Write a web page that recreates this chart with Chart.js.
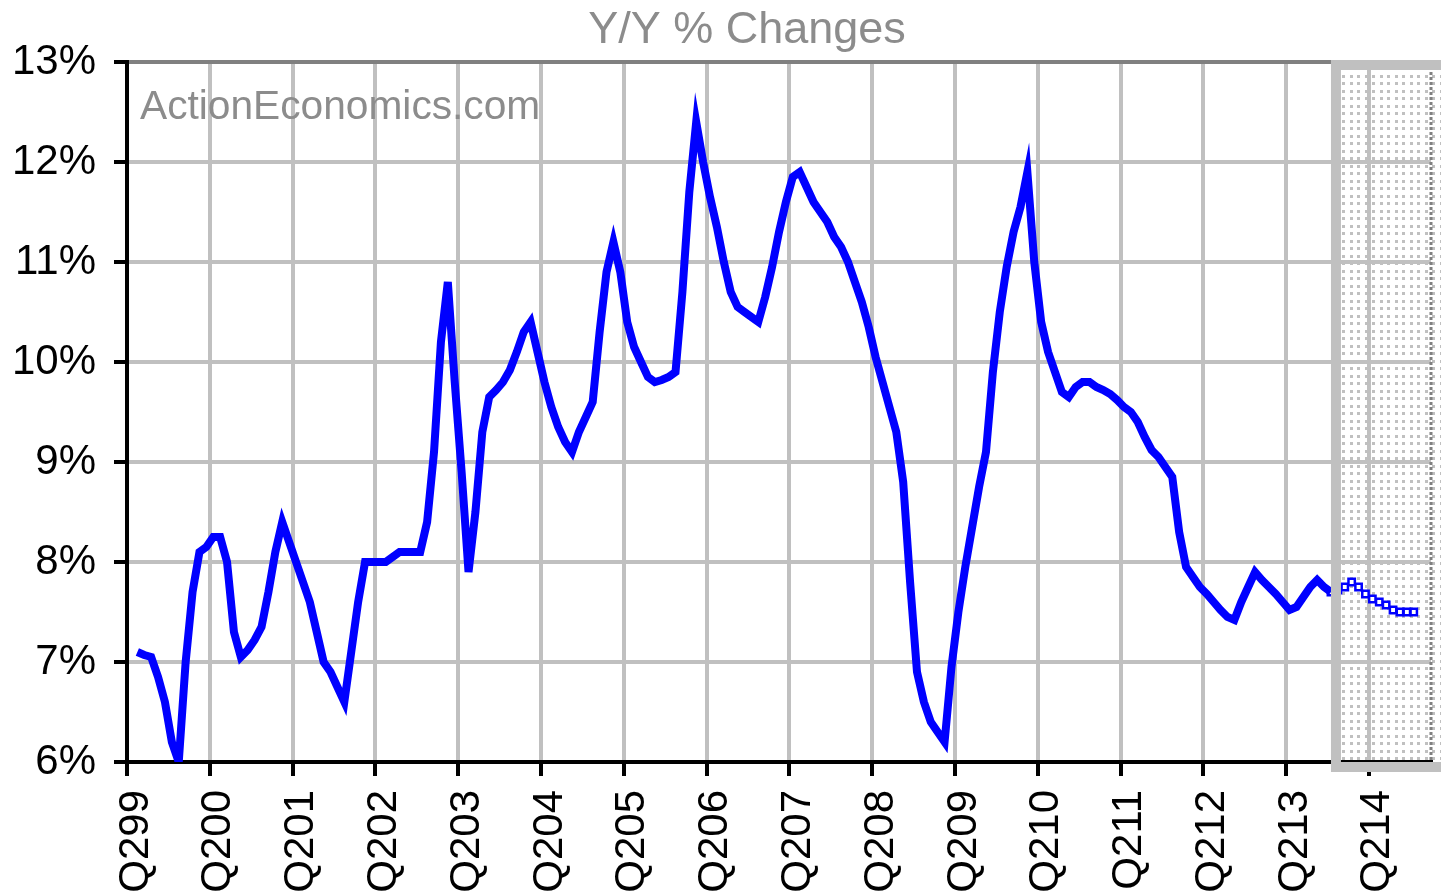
<!DOCTYPE html>
<html>
<head>
<meta charset="utf-8">
<script src="https://cdn.jsdelivr.net/npm/chart.js@4.4.1/dist/chart.umd.min.js"></script>
<style>
html, body { margin: 0; padding: 0; background: #fff; }
</style>
</head>
<body>
<canvas id="chartYY" width="1441" height="893"></canvas>
<script>
// tick labels under the x axis, one per year
var tickLabels = ['Q299','Q200','Q201','Q202','Q203','Q204','Q205','Q206',
                  'Q207','Q208','Q209','Q210','Q211','Q212','Q213','Q214'];
var yTicks = [6, 7, 8, 9, 10, 11, 12, 13];

// monthly y/y % change, actuals
var histValues = [
    7.1, 7.07, 7.05, 6.85, 6.6, 6.2, 6.0, 7.0, 7.7, 8.1, 8.15, 8.25,
    8.25, 8.0, 7.3, 7.05, 7.12, 7.22, 7.35, 7.7, 8.1, 8.4, 8.2, 8.0,
    7.8, 7.6, 7.3, 7.0, 6.9, 6.75, 6.6, 7.1, 7.6, 8.0, 8.0, 8.0,
    8.0, 8.05, 8.1, 8.1, 8.1, 8.1, 8.4, 9.1, 10.2, 10.8, 9.8, 8.9,
    7.9, 8.5, 9.3, 9.65, 9.72, 9.8, 9.92, 10.1, 10.3, 10.4, 10.1, 9.8,
    9.55, 9.35, 9.2, 9.1, 9.3, 9.45, 9.6, 10.3, 10.9, 11.2, 10.9, 10.4,
    10.15, 10.0, 9.85, 9.8, 9.82, 9.85, 9.9, 10.7, 11.7, 12.4, 12.0, 11.65,
    11.35, 11.0, 10.7, 10.55, 10.5, 10.45, 10.4, 10.65, 10.95, 11.3, 11.6, 11.85,
    11.9, 11.75, 11.6, 11.5, 11.4, 11.25, 11.15, 11.0, 10.8, 10.6, 10.35, 10.05,
    9.8, 9.55, 9.3, 8.8, 7.8, 6.9, 6.6, 6.4, 6.3, 6.2, 6.95, 7.5,
    7.95, 8.35, 8.75, 9.1, 9.9, 10.5, 10.95, 11.3, 11.55, 11.9, 11.0, 10.4,
    10.1, 9.9, 9.7, 9.65, 9.75, 9.8, 9.8, 9.75, 9.72, 9.68, 9.62, 9.55,
    9.5, 9.4, 9.25, 9.12, 9.05, 8.95, 8.85, 8.3, 7.95, 7.85, 7.75, 7.68,
    7.6, 7.52, 7.45, 7.42, 7.6, 7.75, 7.9, 7.82, 7.75, 7.68, 7.6, 7.52,
    7.55, 7.65, 7.75, 7.82, 7.75, 7.7
];
// forecast months, following the last actual
var fcstValues = [7.72, 7.75, 7.8, 7.75, 7.68, 7.63, 7.6, 7.57, 7.52, 7.5, 7.5, 7.5];

var chartTitle = 'Y/Y % Changes';
var watermark = 'ActionEconomics.com';

var firstMonth = 1.5;   // first data month, counted from the Q299 tick
var lastHist = histValues.length - 1;

var histData = histValues.map((v, i) => ({x: firstMonth + i, y: v}));
var fcstData = [{x: firstMonth + lastHist, y: histValues[lastHist]}].concat(
    fcstValues.map((v, i) => ({x: firstMonth + lastHist + 1 + i, y: v})));

var fontName = "'Liberation Sans', Arial, sans-serif";
var labelFont = {family: fontName, size: 42};

// dotted fill for the forecast box
function dotPattern(ctx) {
    var c = document.createElement('canvas');
    c.width = 15; c.height = 15;
    var p = c.getContext('2d');
    p.fillStyle = '#c0c0c0';
    [[0,0],[7,0],[0,7],[7,7]].forEach(d => p.fillRect(d[0], d[1], 3, 3));
    return ctx.createPattern(c, 'repeat');
}

var forecastBox = {
    id: 'forecastBox',
    beforeDraw: function (chart) {
        var ctx = chart.ctx, area = chart.chartArea;
        var left = chart.scales.x.getPixelForValue(firstMonth + lastHist);
        ctx.save();
        ctx.fillStyle = dotPattern(ctx);
        ctx.fillRect(left, area.top, chart.width - left, area.bottom - area.top + 10);
        // title
        ctx.fillStyle = '#8c8c8c';
        ctx.font = '45px ' + fontName;
        ctx.textAlign = 'center';
        ctx.textBaseline = 'alphabetic';
        ctx.fillText(chartTitle, 747, 43);
        ctx.restore();
    },
    beforeDatasetsDraw: function (chart) {
        var ctx = chart.ctx, area = chart.chartArea;
        ctx.save();
        ctx.fillStyle = '#8c8c8c';
        ctx.font = '40.7px ' + fontName;
        ctx.textBaseline = 'alphabetic';
        ctx.fillText(watermark, area.left + 13, area.top + 57);
        ctx.restore();
    },
    afterDatasetsDraw: function (chart) {
        var ctx = chart.ctx, area = chart.chartArea;
        var left = chart.scales.x.getPixelForValue(firstMonth + lastHist);
        ctx.save();
        ctx.strokeStyle = '#808080';
        ctx.lineWidth = 3;
        ctx.setLineDash([3, 2]);
        ctx.beginPath();
        ctx.moveTo(area.right, area.top);
        ctx.lineTo(area.right, area.bottom);
        ctx.stroke();
        ctx.setLineDash([]);
        ctx.strokeStyle = '#c0c0c0';
        ctx.lineWidth = 10;
        ctx.beginPath();
        ctx.moveTo(chart.width + 5, area.top + 3);
        ctx.lineTo(left + 5, area.top + 3);
        ctx.lineTo(left + 5, area.bottom + 5);
        ctx.lineTo(chart.width + 5, area.bottom + 5);
        ctx.stroke();
        ctx.restore();
    }
};

new Chart(document.getElementById('chartYY'), {
    type: 'line',
    data: {
        datasets: [{
            label: 'Y/Y',
            data: histData,
            borderColor: '#0000ff',
            borderWidth: 8,
            pointRadius: 0,
            tension: 0
        }, {
            label: 'Forecast',
            data: fcstData,
            borderColor: '#0000ff',
            borderWidth: 3,
            pointStyle: 'rect',
            pointRadius: 4.5,
            pointBorderWidth: 2.5,
            pointBackgroundColor: '#ffffff',
            pointBorderColor: '#0000ff',
            tension: 0
        }]
    },
    options: {
        responsive: false,
        animation: false,
        devicePixelRatio: 1,
        layout: {padding: {left: 0, right: 10, top: 62, bottom: 0}},
        plugins: {
            legend: {display: false},
            tooltip: {enabled: false},
            title: {display: false}
        },
        scales: {
            x: {
                type: 'linear',
                min: 0,
                max: 189,
                afterBuildTicks: function (axis) {
                    axis.ticks = tickLabels.map((t, k) => ({value: k * 12}));
                },
                afterFit: function (axis) { axis.height = 131; },
                ticks: {
                    autoSkip: false,
                    minRotation: 90,
                    maxRotation: 90,
                    padding: 14,
                    labelOffset: 9,
                    color: '#000',
                    font: labelFont,
                    callback: function (v) { return tickLabels[Math.round(v / 12)]; }
                },
                grid: {
                    color: '#c0c0c0',
                    lineWidth: 4,
                    tickColor: '#000',
                    tickWidth: 4,
                    tickLength: 14
                },
                border: {color: '#000', width: 4}
            },
            y: {
                min: yTicks[0],
                max: yTicks[yTicks.length - 1],
                afterBuildTicks: function (axis) {
                    axis.ticks = yTicks.map(v => ({value: v}));
                },
                afterFit: function (axis) { axis.width = 127; },
                ticks: {
                    padding: 18,
                    color: '#000',
                    font: labelFont,
                    callback: function (v) { return v + '%'; }
                },
                grid: {
                    color: ctx => ctx.tick && ctx.tick.value === 13 ? '#808080' : '#c0c0c0',
                    lineWidth: 4,
                    tickColor: '#000',
                    tickWidth: 4,
                    tickLength: 13
                },
                border: {color: '#000', width: 4}
            }
        }
    },
    plugins: [forecastBox]
});
</script>
</body>
</html>
